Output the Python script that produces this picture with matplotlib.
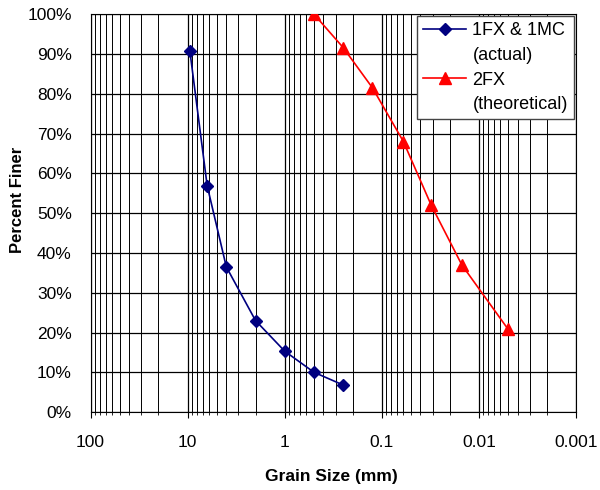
import numpy as np
import matplotlib
matplotlib.use('Agg')
import matplotlib.pyplot as plt
from matplotlib.lines import Line2D
from matplotlib.ticker import FixedLocator, FuncFormatter, LogLocator, NullFormatter

plt.rcParams['font.family'] = ['Liberation Sans', 'DejaVu Sans']

# grain size (mm) and percent finer
actual_size = [9.5, 6.3, 4.0, 2.0, 1.0, 0.5, 0.25]
actual_pct = [90.8, 56.9, 36.5, 23.0, 15.3, 10.0, 6.8]
theo_size = [0.5, 0.25, 0.125, 0.06, 0.031, 0.015, 0.005]
theo_pct = [100, 91.6, 81.5, 68.0, 52.0, 37.0, 20.8]
x_ticks = [100, 10, 1, 0.1, 0.01, 0.001]
x_labels = ['100', '10', '1', '0.1', '0.01', '0.001']

fig = plt.figure(figsize=(6, 4.9), dpi=100)
ax = fig.add_axes([0.151, 0.159, 0.809, 0.812])

l1, = ax.plot(actual_size, actual_pct, color='#000080', marker='D', markersize=6.3,
              linewidth=1.2, zorder=3)
l2, = ax.plot(theo_size, theo_pct, color='#ff0000', marker='^', markersize=8.2,
              linewidth=1.2, zorder=3)

ax.set_xscale('log')
ax.set_xlim(100, 0.001)
ax.set_ylim(0, 100)

ax.xaxis.set_major_locator(FixedLocator(x_ticks))
ax.xaxis.set_major_formatter(FuncFormatter(lambda v, p: x_labels[x_ticks.index(v)] if v in x_ticks else ''))
ax.xaxis.set_minor_locator(LogLocator(base=10, subs=np.arange(2, 10)))
ax.xaxis.set_minor_formatter(NullFormatter())
ax.set_yticks(np.arange(0, 101, 10))
ax.yaxis.set_major_formatter(FuncFormatter(lambda v, p: '%d%%' % v))

ax.grid(True, which='major', color='black', linewidth=0.9)
ax.grid(True, which='minor', axis='x', color='black', linewidth=0.7)
ax.tick_params(axis='x', which='minor', length=2.5, direction='out')
ax.tick_params(axis='x', which='major', length=4.5, direction='out', labelsize=12.5, pad=12)
ax.tick_params(axis='y', length=0, labelsize=12.5, pad=13.5)
for s in ax.spines.values():
    s.set_color('black')

ax.set_xlabel('Grain Size (mm)', fontsize=12.5, fontweight='bold')
ax.xaxis.set_label_coords(0.497, -0.161)
ax.xaxis.label.set_va('center')
ax.set_ylabel('Percent Finer', fontsize=12, fontweight='bold')
ax.yaxis.set_label_coords(-0.151, 0.533)
ax.yaxis.label.set_va('center')

blank = Line2D([], [], alpha=0)
leg = ax.legend([l1, blank, l2, blank],
                ['1FX & 1MC', '(actual)', '2FX', '(theoretical)'],
                loc='upper right', fontsize=13, fancybox=False, framealpha=1,
                edgecolor='#444444', borderaxespad=0.1, handlelength=2.4,
                handletextpad=0.35, labelspacing=0.42, borderpad=0.35)
leg.get_frame().set_linewidth(1.0)

fig.savefig('out.png', dpi=100)
